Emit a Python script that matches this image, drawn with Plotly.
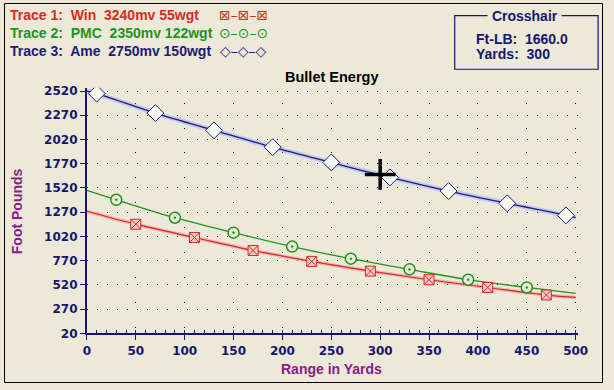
import plotly.graph_objects as go

W, H = 614, 390
BG = "#ECE9D8"
NAVY = "#16166E"
PURPLE = "#8B1A8B"

# ---- data ----
win_x = [0, 50, 110, 170, 230, 290, 350, 410, 470, 500]
win_y = [1280, 1146, 1009, 875, 762, 662, 573, 493, 415, 390]
win_marks = [50, 110, 170, 230, 290, 350, 410, 470]

pmc_x = [0, 30, 90, 150, 210, 270, 330, 390, 450, 500]
pmc_y = [1494, 1398, 1213, 1059, 915, 790, 680, 573, 493, 432]
pmc_marks = [30, 90, 150, 210, 270, 330, 390, 450]

ame_x = [0, 10, 70, 130, 190, 250, 310, 370, 430, 490, 500]
ame_y = [2519, 2494, 2293, 2115, 1941, 1783, 1629, 1488, 1361, 1237, 1213]
ame_marks = [10, 70, 130, 190, 250, 310, 370, 430, 490]

cross_x = [300]
cross_y = [1660.0]

y_tick0, y_dtick = 20, 250
x_tick0, x_dtick = 0, 50

legend_labels = ["Trace 1:&nbsp; Win&nbsp; 3240mv 55wgt",
                 "Trace 2:&nbsp; PMC&nbsp; 2350mv 122wgt",
                 "Trace 3:&nbsp; Ame&nbsp; 2750mv 150wgt"]
legend_glyphs = ["\u22a0\u2013\u22a0\u2013\u22a0", "\u2299\u2013\u2299\u2013\u2299", "\u25c7\u2013\u25c7\u2013\u25c7"]
title_text = "Bullet Energy"
x_title = "Range in Yards"
y_title = "Foot Pounds"

# ---- layout geometry (pixels) ----
PL, PR, PT, PB = 85, 588, 87, 339


def px(x):
    return x / W


def py(y):
    return 1 - y / H


def pick(xs, ys, marks):
    d = dict(zip(xs, ys))
    return marks, [d[m] for m in marks]


RED, RED_HALO, RED_FILL = "#D82828", "#F2B4AC", "#F6CCC4"
GREEN = "#1E941E"
BLUE, BLUE_HALO = "#1C1C78", "#C8C8F0"

fig = go.Figure()

# halos
fig.add_trace(go.Scatter(x=ame_x, y=ame_y, mode="lines", line=dict(color=BLUE_HALO, width=5, shape="spline"), hoverinfo="skip"))
fig.add_trace(go.Scatter(x=win_x, y=win_y, mode="lines", line=dict(color=RED_HALO, width=3.5, shape="spline"), hoverinfo="skip"))

# lines
fig.add_trace(go.Scatter(x=win_x, y=win_y, mode="lines", line=dict(color=RED, width=1.2, shape="spline")))
fig.add_trace(go.Scatter(x=pmc_x, y=pmc_y, mode="lines", line=dict(color=GREEN, width=1.3, shape="spline")))
fig.add_trace(go.Scatter(x=ame_x, y=ame_y, mode="lines", line=dict(color=BLUE, width=1.3, shape="spline")))

# markers
mx, my = pick(win_x, win_y, win_marks)
fig.add_trace(go.Scatter(x=mx, y=my, mode="markers",
                         marker=dict(symbol="square-x", size=10, color=RED_FILL, line=dict(color=RED, width=1))))
mx, my = pick(pmc_x, pmc_y, pmc_marks)
fig.add_trace(go.Scatter(x=mx, y=my, mode="markers",
                         marker=dict(symbol="circle-dot", size=11, color=BG, line=dict(color=GREEN, width=1.5))))
mx, my = pick(ame_x, ame_y, ame_marks)
fig.add_trace(go.Scatter(x=mx, y=my, mode="markers",
                         marker=dict(symbol="diamond", size=13, color="#FAFAF4", line=dict(color=BLUE, width=1))))

# crosshair
fig.add_trace(go.Scatter(x=cross_x, y=cross_y, mode="markers",
                         marker=dict(symbol="cross-thin-open", size=22, color="black", line=dict(color="black", width=3.5))))

tick_common = dict(showline=True, linecolor=NAVY, linewidth=2, ticks="outside", ticklen=5, tickcolor=NAVY,
                   tickfont=dict(family="DejaVu Sans", size=12, color=NAVY),
                   tickprefix="<b>", ticksuffix="</b>",
                   showgrid=True, gridcolor="#000000", gridwidth=1,
                   zeroline=False, fixedrange=True)

fig.update_layout(
    width=W, height=H,
    margin=dict(l=0, r=0, t=0, b=0),
    paper_bgcolor=BG, plot_bgcolor=BG,
    showlegend=False,
    font=dict(family="DejaVu Sans", color=NAVY),
    xaxis=dict(domain=[px(PL), px(PR)], range=[0, 502], tickmode="linear", tick0=x_tick0, dtick=x_dtick,
               griddash="0px,15px,1px,8.86px",
               minor=dict(dtick=10, ticks="inside", ticklen=3, tickcolor=NAVY, showgrid=False),
               **tick_common),
    yaxis=dict(domain=[py(PB), py(PT)], range=[20, 2554], tickmode="linear", tick0=y_tick0, dtick=y_dtick,
               griddash="1px,9px", **tick_common),
)

ann = []
for lbl, r, c, g in zip(legend_labels, [12, 31, 49.5], [RED, GREEN, BLUE], legend_glyphs):
    ann.append(dict(x=px(4), y=py(r), xref="paper", yref="paper", text="<b>%s</b>" % lbl, showarrow=False,
                    xanchor="left", yanchor="middle",
                    font=dict(family="Liberation Sans", size=14, color=c)))
    ann.append(dict(x=px(246), y=py(r), xref="paper", yref="paper", text=g, showarrow=False,
                    xanchor="center", yanchor="middle",
                    font=dict(family="DejaVu Sans", size=14, color=c)))
ann.append(dict(x=px(336), y=py(76), xref="paper", yref="paper", text="<b>%s</b>" % title_text, showarrow=False,
                xanchor="center", yanchor="middle",
                font=dict(family="Liberation Sans", size=14.5, color="black")))
ann.append(dict(x=px(336), y=py(376), xref="paper", yref="paper", text="<b>%s</b>" % x_title, showarrow=False,
                xanchor="center", yanchor="middle",
                font=dict(family="Liberation Sans", size=14, color=PURPLE)))
ann.append(dict(x=px(13), y=py(214), xref="paper", yref="paper", text="<b>%s</b>" % y_title, showarrow=False,
                xanchor="center", yanchor="middle", textangle=-90,
                font=dict(family="Liberation Sans", size=14, color=PURPLE)))
# crosshair readout box
ann.append(dict(x=px(534), y=py(13), xref="paper", yref="paper", text="<b> Crosshair </b>", showarrow=False,
                xanchor="center", yanchor="middle", bgcolor=BG, borderpad=0,
                font=dict(family="Liberation Sans", size=14, color=NAVY)))
ann.append(dict(x=px(482), y=py(36.5), xref="paper", yref="paper",
                text="<b>Ft-LB:&nbsp; %.1f</b>" % cross_y[0], showarrow=False, xanchor="left", yanchor="middle",
                font=dict(family="Liberation Sans", size=14, color=NAVY)))
ann.append(dict(x=px(482), y=py(52), xref="paper", yref="paper",
                text="<b>Yards:&nbsp; %d</b>" % cross_x[0], showarrow=False, xanchor="left", yanchor="middle",
                font=dict(family="Liberation Sans", size=14, color=NAVY)))
fig.update_layout(annotations=ann)

fig.update_layout(shapes=[
    dict(type="rect", xref="paper", yref="paper", x0=px(462), x1=px(609), y0=py(13), y1=py(68),
         line=dict(color=NAVY, width=1.2), layer="below"),
    dict(type="rect", xref="paper", yref="paper", x0=px(0.5), x1=px(W - 0.5), y0=py(0.5), y1=py(H - 0.5),
         line=dict(color="black", width=1)),
])

fig.write_html(
    "out.html",
    config={"displayModeBar": False, "responsive": False, "staticPlot": True},
    post_script=("document.documentElement.style.margin='0';document.documentElement.style.padding='0';"
                 "document.documentElement.style.overflow='hidden';"
                 "document.body.style.margin='0';document.body.style.padding='0';"
                 "document.body.style.overflow='hidden';document.body.style.background='%s';" % BG),
)
